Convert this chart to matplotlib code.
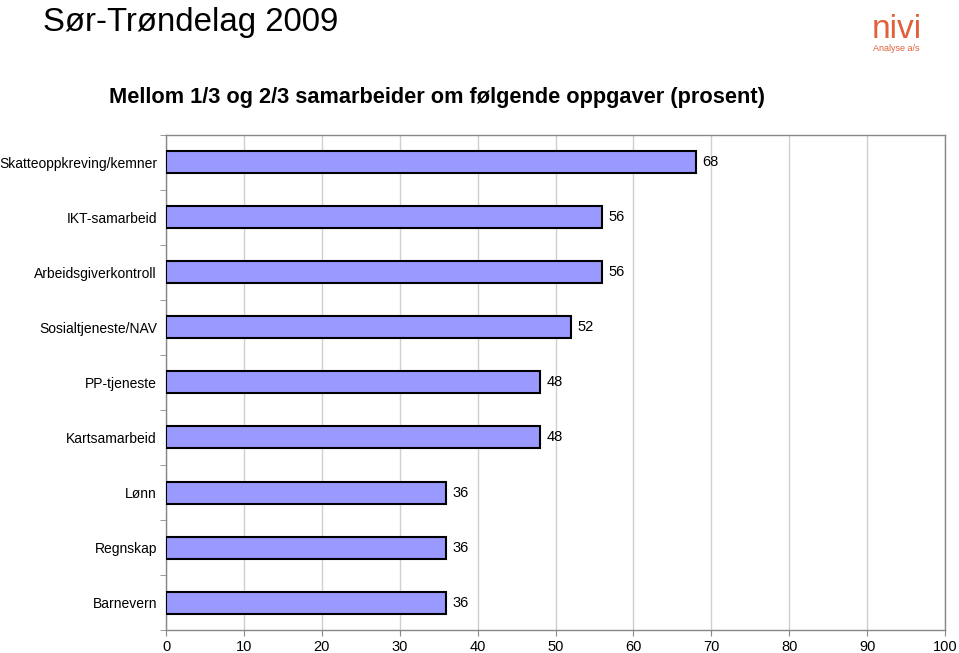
import matplotlib.pyplot as plt

# Data
oppgaver = ['Skatteoppkreving/kemner', 'IKT-samarbeid', 'Arbeidsgiverkontroll',
            'Sosialtjeneste/NAV', 'PP-tjeneste', 'Kartsamarbeid',
            'Lønn', 'Regnskap', 'Barnevern']
prosent = [68, 56, 56, 52, 48, 48, 36, 36, 36]
xticks = [0, 10, 20, 30, 40, 50, 60, 70, 80, 90, 100]

plt.rcParams['font.family'] = ['Liberation Sans', 'DejaVu Sans']

fig = plt.figure(figsize=(9.59, 6.53), dpi=100)
ax = fig.add_axes([0.1731, 0.0352, 0.8123, 0.7581])

y = list(range(len(oppgaver)))
ax.barh(y, prosent, height=0.4, color='#9999FF', edgecolor='black', linewidth=1.5, zorder=3)
for yi, v in zip(y, prosent):
    ax.text(v + 0.8, yi, str(v), va='center', ha='left', fontsize=10.5)

ax.set_xlim(0, 100)
ax.set_ylim(len(oppgaver) - 0.5, -0.5)
ax.set_xticks(xticks)
ax.set_yticks(y)
ax.set_yticklabels(oppgaver, fontsize=10)
ax.tick_params(axis='x', labelsize=10.5, length=4, color='#888888', pad=3)
ax.tick_params(axis='y', length=0, pad=6.5)
ax.set_yticks([i + 0.5 for i in range(-1, len(oppgaver))], minor=True)
ax.tick_params(axis='y', which='minor', length=4, color='#888888')
ax.grid(axis='x', color='#d0d0d0', linewidth=1, zorder=0)
for s in ax.spines.values():
    s.set_color('#888888')
    s.set_linewidth(1)

fig.text(0.045, 0.966, 'Sør-Trøndelag 2009', fontsize=23.8, ha='left', va='center')
fig.text(0.114, 0.851, 'Mellom 1/3 og 2/3 samarbeider om følgende oppgaver (prosent)',
         fontsize=15.7, fontweight='bold', ha='left', va='center')

# logo
fig.text(0.935, 0.955, 'nivi', fontsize=24, color='#E0603A', ha='center', va='center')
fig.text(0.935, 0.925, 'Analyse a/s', fontsize=6.5, color='#E0603A', ha='center', va='center')

fig.savefig('out.png', dpi=100)
